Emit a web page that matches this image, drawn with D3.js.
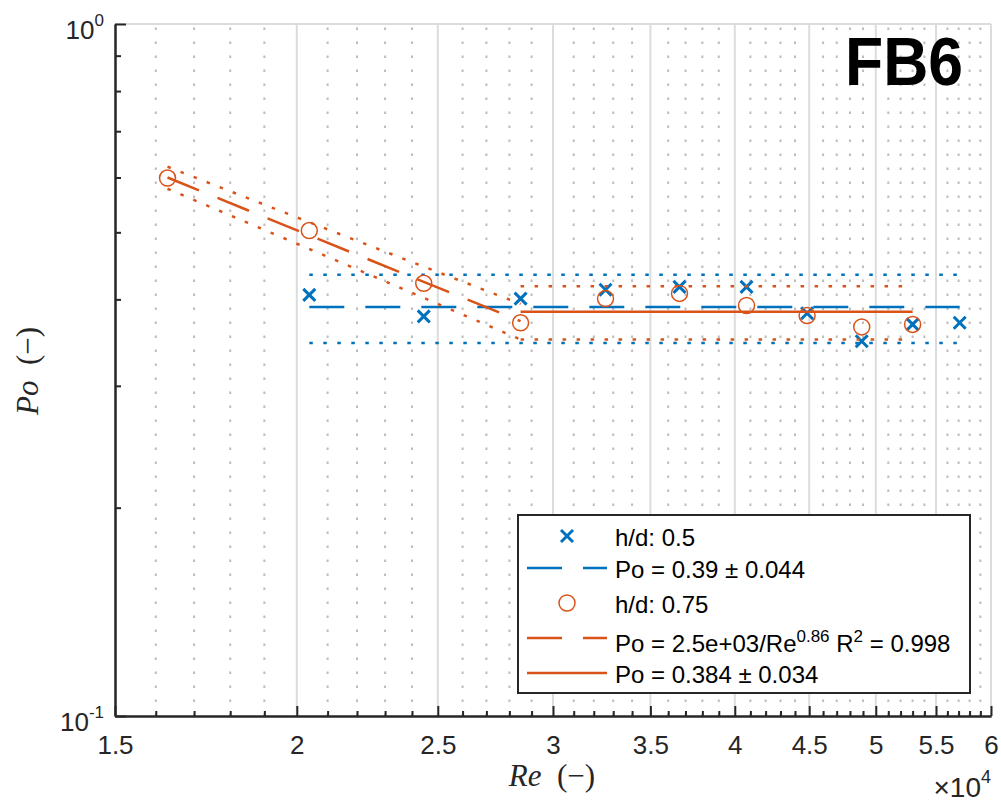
<!DOCTYPE html>
<html lang="en">
  <head>
    <meta charset="utf-8">
    <title>FB6 - Po vs Re</title>
    <style>
      body { margin: 0; background: #fff; }
      svg { display: block; font-family: "Liberation Sans", Arial, sans-serif; }
      .axis path, .axis line { stroke: #262626; stroke-width: 2; }
      .axis text { fill: #262626; font-size: 26px; font-family: "Liberation Sans", Arial, sans-serif; }
    </style>
  </head>
  <body>
    <div class="chart"></div>

    <script src="https://cdn.jsdelivr.net/npm/d3@7"></script>
    <script type="text/javascript">
      // measured points, h/d = 0.5
      var reBlue = [20400, 24450, 28500, 32600, 36650, 40750, 44850, 48900, 53000, 57100];
      var poBlue = [0.406, 0.378, 0.401, 0.413, 0.417, 0.417, 0.382, 0.348, 0.368, 0.370];

      // measured points, h/d = 0.75
      var reOrange = [16300, 20400, 24450, 28500, 32600, 36650, 40750, 44850, 48900, 53000];
      var poOrange = [0.599, 0.503, 0.422, 0.370, 0.401, 0.408, 0.392, 0.379, 0.365, 0.368];

      // fits
      var blueFitRe = [20400, 57100];
      var blueFitPo = [0.39, 0.39];
      var blueFitHi = [0.434, 0.434];
      var blueFitLo = [0.346, 0.346];

      var powFitRe = [16300, 20400, 24450, 28500];
      var powFitPo = [0.600, 0.495, 0.424, 0.372];
      var powFitHi = [0.622, 0.517, 0.446, 0.394];
      var powFitLo = [0.578, 0.473, 0.402, 0.350];

      var constFitRe = [28500, 53000];
      var constFitPo = [0.384, 0.384];
      var constFitHi = [0.418, 0.418];
      var constFitLo = [0.350, 0.350];

      // ticks
      var xMajor = [15000, 20000, 25000, 30000, 35000, 40000, 45000, 50000, 55000, 60000];
      var xMinor = d3.range(16000, 60000, 1000).filter(function(v) { return v % 5000 !== 0; });
      var yMajor = [0.1, 1];
      var yMinor = [0.2, 0.3, 0.4, 0.5, 0.6, 0.7, 0.8, 0.9];

      var legendLabels = ["h/d: 0.5", "Po = 0.39 \u00b1 0.044", "h/d: 0.75",
                          "Po = 2.5e+03/Re^0.86 R^2 = 0.998", "Po = 0.384 \u00b1 0.034"];

      var blue = "#0072BD", orange = "#D95319";
      var width = 1001, height = 804;
      var m = {left: 115, right: 991, top: 24, bottom: 716};

      var svg = d3.select(".chart")
        .append("svg")
          .attr("width", width)
          .attr("height", height);

      var x = d3.scaleLog().domain([15000, 60000]).range([m.left, m.right]);
      var y = d3.scaleLog().domain([0.1, 1]).range([m.bottom, m.top]);

      // grid
      var grid = svg.append("g").attr("class", "grid");
      grid.selectAll("line.minor")
          .data(xMinor)
          .enter().append("line")
          .attr("class", "minor")
          .attr("x1", function(d) { return x(d); })
          .attr("x2", function(d) { return x(d); })
          .attr("y1", m.bottom).attr("y2", m.top)
          .attr("stroke", "#bcbcbc")
          .attr("stroke-width", 2)
          .attr("stroke-dasharray", "2.5,11.5");
      grid.selectAll("line.major")
          .data(xMajor.slice(1))
          .enter().append("line")
          .attr("class", "major")
          .attr("x1", function(d) { return x(d); })
          .attr("x2", function(d) { return x(d); })
          .attr("y1", m.bottom).attr("y2", m.top)
          .attr("stroke", "#dcdcdc")
          .attr("stroke-width", 2);
      grid.append("line")
          .attr("x1", m.left).attr("x2", m.right)
          .attr("y1", y(1)).attr("y2", y(1))
          .attr("stroke", "#dcdcdc")
          .attr("stroke-width", 2);

      var line = d3.line()
          .x(function(d) { return x(d[0]); })
          .y(function(d) { return y(d[1]); });

      function drawLine(res, pos, color, dash) {
        svg.append("path")
            .datum(d3.zip(res, pos))
            .attr("d", line)
            .attr("fill", "none")
            .attr("stroke", color)
            .attr("stroke-width", 2.5)
            .attr("stroke-dasharray", dash);
      }

      function crossPath(cx, cy, s) {
        return "M" + (cx - s) + "," + (cy - s) + "L" + (cx + s) + "," + (cy + s) +
               "M" + (cx - s) + "," + (cy + s) + "L" + (cx + s) + "," + (cy - s);
      }

      // h/d 0.5
      svg.append("g").selectAll("path")
          .data(d3.zip(reBlue, poBlue))
          .enter().append("path")
          .attr("d", function(d) { return crossPath(x(d[0]), y(d[1]), 6); })
          .attr("stroke", blue)
          .attr("stroke-width", 3)
          .attr("fill", "none");
      drawLine(blueFitRe, blueFitPo, blue, "35,21");
      drawLine(blueFitRe, blueFitHi, blue, "3.5,10.5");
      drawLine(blueFitRe, blueFitLo, blue, "3.5,10.5");

      // h/d 0.75
      svg.append("g").selectAll("circle")
          .data(d3.zip(reOrange, poOrange))
          .enter().append("circle")
          .attr("cx", function(d) { return x(d[0]); })
          .attr("cy", function(d) { return y(d[1]); })
          .attr("r", 8)
          .attr("fill", "none")
          .attr("stroke", orange)
          .attr("stroke-width", 1.5);
      drawLine(powFitRe, powFitPo, orange, "34,20");
      drawLine(powFitRe, powFitHi, orange, "3.5,10.5");
      drawLine(powFitRe, powFitLo, orange, "3.5,10.5");
      drawLine(constFitRe, constFitPo, orange, null);
      drawLine(constFitRe, constFitHi, orange, "3.5,10.5");
      drawLine(constFitRe, constFitLo, orange, "3.5,10.5");

      // axes
      svg.append("g")
          .attr("class", "axis")
          .attr("transform", "translate(0," + m.bottom + ")")
          .call(d3.axisBottom(x).tickValues(xMinor).tickSizeInner(-5).tickSizeOuter(0).tickFormat(""));
      svg.append("g")
          .attr("class", "axis")
          .attr("transform", "translate(0," + m.bottom + ")")
          .call(d3.axisBottom(x).tickValues(xMajor).tickSizeInner(-10).tickSizeOuter(0)
                .tickPadding(20).tickFormat(function(d) { return d / 1e4; }));

      svg.append("g")
          .attr("class", "axis")
          .attr("transform", "translate(" + m.left + ",0)")
          .call(d3.axisLeft(y).tickValues(yMinor).tickSizeInner(-6).tickSizeOuter(0).tickFormat(""));
      var yAxis = svg.append("g")
          .attr("class", "axis")
          .attr("transform", "translate(" + m.left + ",0)")
          .call(d3.axisLeft(y).tickValues(yMajor).tickSizeInner(-11).tickSizeOuter(0)
                .tickFormat(""));

      yAxis.selectAll(".tick text").each(function(d) {
        var t = d3.select(this)
            .attr("x", -11).attr("y", 14).attr("dy", null)
            .attr("text-anchor", "end");
        t.append("tspan").text("10");
        t.append("tspan").attr("dy", -13).attr("font-size", 17)
            .text(String(Math.round(Math.log10(d))));
      });

      // x10^4
      var mult = svg.append("text")
          .attr("x", m.right).attr("y", 797)
          .attr("text-anchor", "end")
          .attr("fill", "#262626")
          .attr("font-size", 28);
      mult.append("tspan").text("\u00d710");
      mult.append("tspan").attr("dy", -14).attr("font-size", 18).text("4");

      // axis labels
      var xl = svg.append("text")
          .attr("x", 552).attr("y", 786)
          .attr("text-anchor", "middle")
          .attr("fill", "#262626")
          .attr("font-family", "'Liberation Serif', 'Times New Roman', serif")
          .attr("font-size", 31);
      xl.append("tspan").attr("font-style", "italic").text("Re");
      xl.append("tspan").text("\u2002(\u2212)");

      var yl = svg.append("text")
          .attr("transform", "translate(38,371) rotate(-90)")
          .attr("text-anchor", "middle")
          .attr("fill", "#262626")
          .attr("font-family", "'Liberation Serif', 'Times New Roman', serif")
          .attr("font-size", 31);
      yl.append("tspan").attr("font-style", "italic").text("Po");
      yl.append("tspan").text("\u2002(\u2212)");

      // title
      svg.append("text")
          .attr("x", 845).attr("y", 85)
          .attr("font-size", 68)
          .attr("font-weight", "bold")
          .attr("textLength", 118)
          .attr("lengthAdjust", "spacingAndGlyphs")
          .attr("fill", "#000")
          .text("FB6");

      // legend
      var lg = svg.append("g").attr("class", "legend");
      lg.append("rect")
          .attr("x", 518).attr("y", 515)
          .attr("width", 452).attr("height", 178)
          .attr("fill", "#fff")
          .attr("stroke", "#262626")
          .attr("stroke-width", 2);

      var rowY = [536, 568, 603, 638, 673];
      var sampleX0 = 527, sampleX1 = 607, markX = 567, textX = 615;

      lg.append("path")
          .attr("d", crossPath(markX, rowY[0], 6))
          .attr("stroke", blue).attr("stroke-width", 3);
      lg.append("line")
          .attr("x1", sampleX0).attr("x2", sampleX1)
          .attr("y1", rowY[1]).attr("y2", rowY[1])
          .attr("stroke", blue).attr("stroke-width", 2.5)
          .attr("stroke-dasharray", "35,21");
      lg.append("circle")
          .attr("cx", markX).attr("cy", rowY[2]).attr("r", 8)
          .attr("fill", "none").attr("stroke", orange).attr("stroke-width", 1.5);
      lg.append("line")
          .attr("x1", sampleX0).attr("x2", sampleX1)
          .attr("y1", rowY[3]).attr("y2", rowY[3])
          .attr("stroke", orange).attr("stroke-width", 2.5)
          .attr("stroke-dasharray", "35,21");
      lg.append("line")
          .attr("x1", sampleX0).attr("x2", sampleX1)
          .attr("y1", rowY[4]).attr("y2", rowY[4])
          .attr("stroke", orange).attr("stroke-width", 2.5);

      legendLabels.forEach(function(label, i) {
        var t = lg.append("text")
            .attr("x", textX)
            .attr("y", rowY[i] + (i === 3 ? 14 : 10))
            .attr("font-size", 24)
            .attr("fill", "#000");
        // split on ^ for superscripts
        var parts = label.split(/\^(\S+)/);
        parts.forEach(function(p, j) {
          if (j % 2 === 1) {
            t.append("tspan").attr("dy", -10).attr("font-size", 17).text(p);
          } else if (p.length) {
            t.append("tspan").attr("dy", j > 0 ? 10 : 0).text(p);
          }
        });
      });
    </script>
  </body>
</html>
